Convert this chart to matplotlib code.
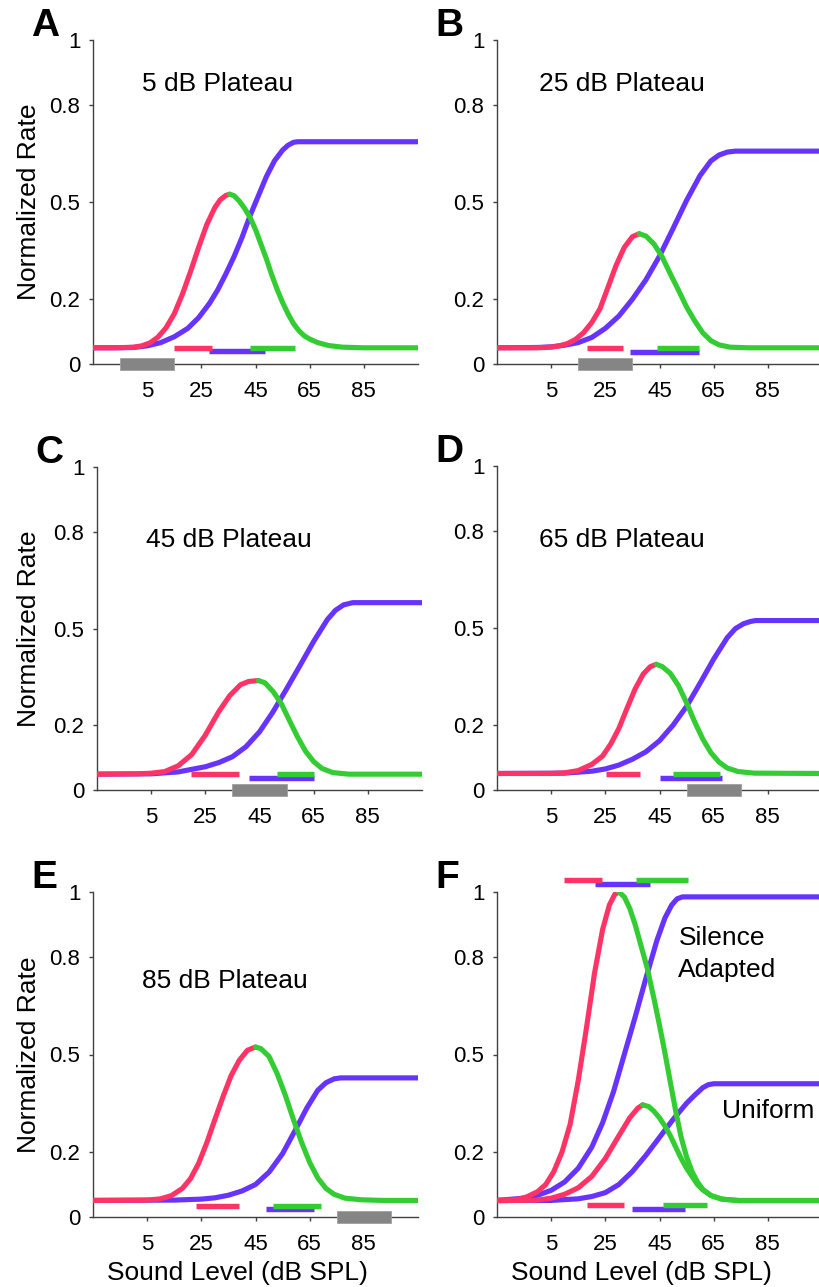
import matplotlib
matplotlib.use("Agg")
import matplotlib.pyplot as plt

plt.rcParams["font.family"] = ["Liberation Sans", "DejaVu Sans"]

RED = "#ff3366"
BLUE = "#6633ff"
GREEN = "#33cc33"
GREY = "#858585"
AXIS = "#404040"

x_ticks = [5, 25, 45, 65, 85]
y_ticks = [0, 0.2, 0.5, 0.8, 1]
y_tick_labels = ["0", "0.2", "0.5", "0.8", "1"]

# ---------- A : 5 dB plateau ----------
a_red_x = [-15, -8, -3, 0, 3, 6, 9, 12, 15, 18, 21, 24, 27, 30, 32, 34, 35.4]
a_red_y = [0.05, 0.05, 0.051, 0.052, 0.056, 0.065, 0.083, 0.112, 0.155, 0.215, 0.285, 0.36, 0.43, 0.483, 0.507, 0.52, 0.524]
a_green_x = [35.4, 37, 39, 41, 43, 45, 47, 49, 51, 53, 55, 57, 59, 61, 63, 65, 68, 72, 77, 85, 105]
a_green_y = [0.524, 0.52, 0.503, 0.48, 0.452, 0.415, 0.37, 0.325, 0.275, 0.23, 0.19, 0.155, 0.125, 0.103, 0.087, 0.077, 0.066, 0.057, 0.052, 0.05, 0.05]
a_blue_x = [-15, -5, 0, 5, 10, 15, 20, 24, 28, 31, 34, 37, 40, 43, 46, 49, 52, 55, 57, 59, 60.5, 105]
a_blue_y = [0.05, 0.05, 0.051, 0.056, 0.066, 0.084, 0.11, 0.143, 0.187, 0.228, 0.277, 0.33, 0.39, 0.458, 0.518, 0.578, 0.627, 0.66, 0.675, 0.684, 0.686, 0.686]
a_bar_red = [15, 29, 0.048]
a_bar_blue = [28, 48.4, 0.04]
a_bar_green = [42.8, 59.5, 0.048]
a_plateau = [-5, 15]

# ---------- B : 25 dB plateau ----------
b_red_x = [-15, 0, 5, 8, 11, 14, 17, 20, 23, 26, 29, 32, 35, 37.5]
b_red_y = [0.05, 0.05, 0.052, 0.056, 0.063, 0.076, 0.097, 0.128, 0.17, 0.237, 0.305, 0.36, 0.393, 0.402]
b_green_x = [37.5, 40, 43, 46, 49, 52, 55, 58, 61, 64, 67, 71, 78, 105]
b_green_y = [0.402, 0.395, 0.37, 0.33, 0.278, 0.228, 0.176, 0.133, 0.096, 0.072, 0.059, 0.052, 0.05, 0.05]
b_blue_x = [-15, 0, 5, 10, 15, 20, 25, 30, 35, 40, 45, 50, 55, 60, 64, 67, 70, 73, 105]
b_blue_y = [0.05, 0.051, 0.053, 0.058, 0.066, 0.082, 0.11, 0.148, 0.2, 0.26, 0.333, 0.418, 0.505, 0.582, 0.627, 0.645, 0.654, 0.657, 0.657]
b_bar_red = [18.4, 31.6, 0.048]
b_bar_blue = [34, 59.4, 0.038]
b_bar_green = [43.9, 59.4, 0.048]
b_plateau = [15, 35]

# ---------- C : 45 dB plateau ----------
c_red_x = [-15, 0, 5, 10, 15, 20, 25, 30, 34, 38, 41, 44.6]
c_red_y = [0.049, 0.05, 0.052, 0.057, 0.075, 0.11, 0.17, 0.243, 0.292, 0.326, 0.336, 0.339]
c_green_x = [44.6, 47, 50, 53, 56, 59, 62, 65, 68, 72, 78, 105]
c_green_y = [0.339, 0.332, 0.305, 0.268, 0.216, 0.165, 0.12, 0.088, 0.067, 0.054, 0.049, 0.049]
c_blue_x = [-15, 5, 15, 25, 30, 35, 40, 45, 50, 55, 60, 65, 70, 73, 76, 79.4, 105]
c_blue_y = [0.049, 0.05, 0.056, 0.072, 0.085, 0.103, 0.134, 0.18, 0.242, 0.313, 0.386, 0.46, 0.527, 0.556, 0.573, 0.58, 0.58]
c_bar_red = [19.6, 37.5, 0.048]
c_bar_blue = [41.2, 65.2, 0.038]
c_bar_green = [51.3, 65.2, 0.048]
c_plateau = [35, 55]

# ---------- D : 65 dB plateau ----------
d_red_x = [-15, 5, 10, 15, 20, 24, 27, 30, 33, 36, 39, 41.5, 43.8]
d_red_y = [0.051, 0.051, 0.053, 0.06, 0.079, 0.105, 0.142, 0.19, 0.252, 0.312, 0.358, 0.38, 0.388]
d_green_x = [43.8, 46, 49, 52, 55, 58, 61, 64, 67, 70, 74, 80, 105]
d_green_y = [0.388, 0.381, 0.36, 0.322, 0.269, 0.21, 0.157, 0.115, 0.086, 0.068, 0.057, 0.052, 0.051]
d_blue_x = [-15, 10, 20, 25, 30, 35, 40, 45, 50, 55, 60, 65, 70, 73, 76, 78.5, 80.5, 105]
d_blue_y = [0.051, 0.052, 0.058, 0.065, 0.077, 0.095, 0.118, 0.152, 0.2, 0.258, 0.33, 0.404, 0.47, 0.498, 0.513, 0.52, 0.523, 0.523]
d_bar_red = [25.1, 37.8, 0.049]
d_bar_blue = [45.2, 68, 0.038]
d_bar_green = [50.1, 67.4, 0.049]
d_plateau = [55, 75]

# ---------- E : 85 dB plateau ----------
e_red_x = [-15, 5, 10, 14, 18, 21, 24, 27, 30, 33, 36, 39, 42, 45]
e_red_y = [0.051, 0.052, 0.056, 0.066, 0.088, 0.118, 0.165, 0.228, 0.3, 0.37, 0.435, 0.482, 0.513, 0.523]
e_green_x = [45, 47, 50, 53, 56, 59, 62, 65, 68, 71, 74, 78, 84, 92, 105]
e_green_y = [0.523, 0.518, 0.494, 0.441, 0.375, 0.3, 0.23, 0.168, 0.12, 0.088, 0.07, 0.058, 0.053, 0.051, 0.051]
e_blue_x = [-15, 15, 25, 30, 35, 40, 45, 50, 55, 60, 64, 68, 71, 74, 76.4, 105]
e_blue_y = [0.051, 0.052, 0.055, 0.059, 0.067, 0.08, 0.1, 0.138, 0.195, 0.272, 0.336, 0.39, 0.413, 0.425, 0.428, 0.428]
e_bar_red = [23.2, 38.8, 0.034]
e_bar_blue = [48.7, 66.5, 0.026]
e_bar_green = [51.5, 69.2, 0.034]
e_plateau = [75, 95]

# ---------- F : silence adapted vs uniform ----------
f_sil_red_x = [-15, -8, -4, 0, 3, 6, 9, 12, 15, 18, 21, 24, 26.5, 28.5, 30]
f_sil_red_y = [0.051, 0.053, 0.062, 0.078, 0.1, 0.14, 0.2, 0.285, 0.42, 0.58, 0.75, 0.885, 0.96, 0.993, 1.0]
f_sil_green_x = [30, 32, 34, 36, 38, 40.5, 43, 45, 47, 49, 51, 53, 55, 57, 59, 61, 64, 68, 74, 105]
f_sil_green_y = [1.0, 0.985, 0.95, 0.9, 0.84, 0.765, 0.67, 0.59, 0.505, 0.415, 0.325, 0.245, 0.185, 0.14, 0.108, 0.085, 0.066, 0.055, 0.051, 0.051]
f_sil_blue_x = [-15, -5, 0, 5, 10, 15, 20, 24, 28, 32, 36, 40, 44, 47, 49.5, 51.5, 53.5, 105]
f_sil_blue_y = [0.051, 0.058, 0.067, 0.082, 0.108, 0.15, 0.215, 0.29, 0.385, 0.5, 0.615, 0.735, 0.85, 0.92, 0.96, 0.979, 0.985, 0.985]
f_uni_red_x = [-15, 0, 5, 10, 15, 20, 25, 30, 34, 37, 38.8]
f_uni_red_y = [0.05, 0.052, 0.058, 0.07, 0.09, 0.125, 0.18, 0.25, 0.305, 0.335, 0.345]
f_uni_green_x = [38.8, 41, 43, 45, 47, 49, 51, 53, 55, 57, 59, 61, 64, 68, 75, 105]
f_uni_green_y = [0.345, 0.34, 0.325, 0.305, 0.28, 0.25, 0.215, 0.18, 0.15, 0.125, 0.1, 0.083, 0.066, 0.055, 0.05, 0.05]
f_uni_blue_x = [-15, 5, 15, 20, 25, 30, 35, 40, 45, 50, 55, 58, 61, 63, 65, 105]
f_uni_blue_y = [0.051, 0.051, 0.056, 0.063, 0.075, 0.1, 0.14, 0.19, 0.245, 0.3, 0.35, 0.375, 0.398, 0.407, 0.41, 0.41]
f_bar_sil_red = [9.9, 23.9, 1.036]
f_bar_sil_blue = [21, 41.4, 1.026]
f_bar_sil_green = [36.5, 55.4, 1.036]
f_bar_uni_red = [18.3, 31.8, 0.036]
f_bar_uni_blue = [35, 54.4, 0.026]
f_bar_uni_green = [46.4, 62.4, 0.036]

# ==========================================
# layout (pixel boxes of the 819x1287 picture)
# ==========================================
W, H = 819, 1287
fig = plt.figure(figsize=(W / 100, H / 100), dpi=100)


def px_axes(left, top, bottom, width=325):
    return fig.add_axes([left / W, 1 - bottom / H, width / W, (bottom - top) / H])


panels = [
    # letter, (left, top, bottom), curves, bars, plateau, note
    ("A", (93, 40, 364),
     [(a_blue_x, a_blue_y, BLUE), (a_red_x, a_red_y, RED), (a_green_x, a_green_y, GREEN)],
     [(a_bar_blue, BLUE), (a_bar_red, RED), (a_bar_green, GREEN)], a_plateau, "5 dB Plateau"),
    ("B", (497, 40, 364),
     [(b_blue_x, b_blue_y, BLUE), (b_red_x, b_red_y, RED), (b_green_x, b_green_y, GREEN)],
     [(b_bar_blue, BLUE), (b_bar_red, RED), (b_bar_green, GREEN)], b_plateau, "25 dB Plateau"),
    ("C", (97, 467, 790),
     [(c_blue_x, c_blue_y, BLUE), (c_red_x, c_red_y, RED), (c_green_x, c_green_y, GREEN)],
     [(c_bar_blue, BLUE), (c_bar_red, RED), (c_bar_green, GREEN)], c_plateau, "45 dB Plateau"),
    ("D", (497, 466, 790),
     [(d_blue_x, d_blue_y, BLUE), (d_red_x, d_red_y, RED), (d_green_x, d_green_y, GREEN)],
     [(d_bar_blue, BLUE), (d_bar_red, RED), (d_bar_green, GREEN)], d_plateau, "65 dB Plateau"),
    ("E", (93, 892, 1217),
     [(e_blue_x, e_blue_y, BLUE), (e_red_x, e_red_y, RED), (e_green_x, e_green_y, GREEN)],
     [(e_bar_blue, BLUE), (e_bar_red, RED), (e_bar_green, GREEN)], e_plateau, "85 dB Plateau"),
    ("F", (497, 892, 1217),
     [(f_sil_blue_x, f_sil_blue_y, BLUE), (f_uni_blue_x, f_uni_blue_y, BLUE),
      (f_sil_red_x, f_sil_red_y, RED), (f_uni_red_x, f_uni_red_y, RED),
      (f_sil_green_x, f_sil_green_y, GREEN), (f_uni_green_x, f_uni_green_y, GREEN)],
     [(f_bar_sil_blue, BLUE), (f_bar_sil_red, RED), (f_bar_sil_green, GREEN),
      (f_bar_uni_blue, BLUE), (f_bar_uni_red, RED), (f_bar_uni_green, GREEN)], None, None),
]

for letter, (left, top, bottom), curves, bars, plateau, note in panels:
    ax = px_axes(left, top, bottom)
    ax.set_xlim(-15, 105)
    ax.set_ylim(0, 1)

    for xs, ys, col in curves:
        ax.plot(xs, ys, color=col, lw=3.7, solid_joinstyle="round", solid_capstyle="round", zorder=3)

    # range bars just above / below the curves
    for (x0, x1, yb), col in bars:
        ax.plot([x0, x1], [yb, yb], color=col, lw=3.9, solid_capstyle="butt", clip_on=False, zorder=4)

    # grey box = adapting plateau level
    if plateau is not None:
        ax.barh(0, plateau[1] - plateau[0], left=plateau[0], height=0.038,
                color=GREY, edgecolor="#a0a0a0", lw=0.6, clip_on=False, zorder=5)

    for side in ("top", "right"):
        ax.spines[side].set_visible(False)
    for side in ("left", "bottom"):
        ax.spines[side].set_color(AXIS)
        ax.spines[side].set_linewidth(1.0)

    ax.set_xticks(x_ticks)
    ax.set_yticks(y_ticks)
    ax.set_yticklabels(y_tick_labels)
    ax.tick_params(axis="both", direction="out", length=3, width=1, color=AXIS, labelsize=16)
    ax.tick_params(axis="y", pad=6)
    ax.tick_params(axis="x", pad=9)

    if left < 300:
        ax.set_ylabel("Normalized Rate", fontsize=19)
        ax.yaxis.set_label_coords((40.6 - left) / 325, 0.5)
    if top > 800:
        ax.set_xlabel("Sound Level (dB SPL)", fontsize=19)
        ax.xaxis.set_label_coords(0.443, -0.135)

    if note is not None:
        nx = 0.151 if left < 300 else 0.13
        ny = {40: 0.843, 467: 0.751, 466: 0.749, 892: 0.705}[top]
        ax.text(nx, ny, note, transform=ax.transAxes, fontsize=19, va="baseline")

    # panel letter
    fig.text((left - 62) / W, 1 - (top - 4) / H, letter, fontsize=28, fontweight="bold",
             va="baseline", ha="left")

# labels of the last panel
axF = fig.axes[-1]
axF.text(0.558, 0.837, "Silence", transform=axF.transAxes, fontsize=19, va="baseline")
axF.text(0.558, 0.739, "Adapted", transform=axF.transAxes, fontsize=19, va="baseline")
axF.text(0.691, 0.304, "Uniform", transform=axF.transAxes, fontsize=19, va="baseline")

fig.savefig("out.png", dpi=100)
